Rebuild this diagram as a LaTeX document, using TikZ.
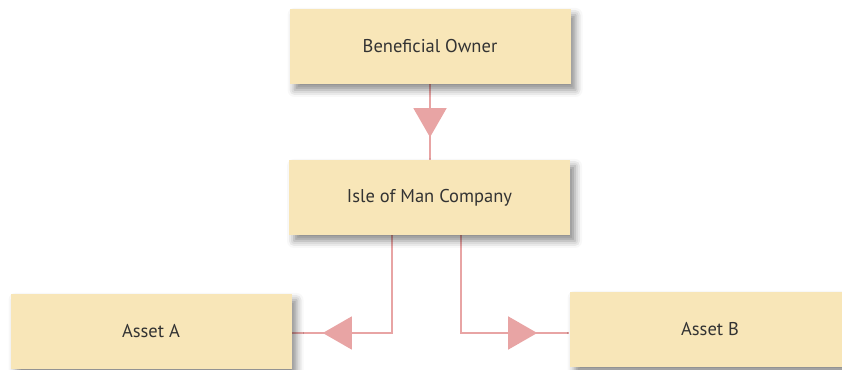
\documentclass[tikz,border=0pt]{standalone}
\usepackage{fontspec}
\setmainfont{PT Sans}
\usetikzlibrary{arrows.meta,shadows.blur,decorations.markings,backgrounds}

\definecolor{boxfill}{HTML}{F8E6B8}
\definecolor{linkpink}{HTML}{E8A4A4}
\definecolor{textgray}{HTML}{333333}

\begin{document}
\begin{tikzpicture}[x=1pt,y=1pt,
	entity/.style={fill=boxfill, minimum width=281pt, minimum height=75pt, inner sep=0pt,
		text=textgray, font=\fontsize{18.5}{22}\selectfont,
		blur shadow={shadow xshift=5pt, shadow yshift=-6pt, shadow blur radius=7pt, shadow opacity=45}},
	link/.style={draw=linkpink, line width=1.4pt},
	midtip/.style={postaction={decorate}, decoration={markings,
		mark=at position #1 with {\arrow{Triangle[length=29pt,width=33pt,fill=linkpink]}}}}
	]
	\useasboundingbox (0,0) rectangle (842,369);
	\node[entity] (owner) at (430,322.5) {Beneficial Owner};
	\node[entity] (company) at (429.5,171.5) {Isle of Man Company};
	\node[entity] (assetA) at (151,37.5) {Asset A};
	\node[entity] (assetB) at (710,39.5) {Asset B};
	
	\begin{scope}[on background layer]
		\draw[link, midtip=53pt] (owner.south -| 430,0) -- (company.north -| 430,0);
		\draw[link, midtip=167pt] (company.south -| 392,0) |- (assetA.east |- 0,36);
		\draw[link, midtip=174pt] (company.south -| 461,0) |- (assetB.west |- 0,36);
	\end{scope}
	
\end{tikzpicture}
\end{document}
